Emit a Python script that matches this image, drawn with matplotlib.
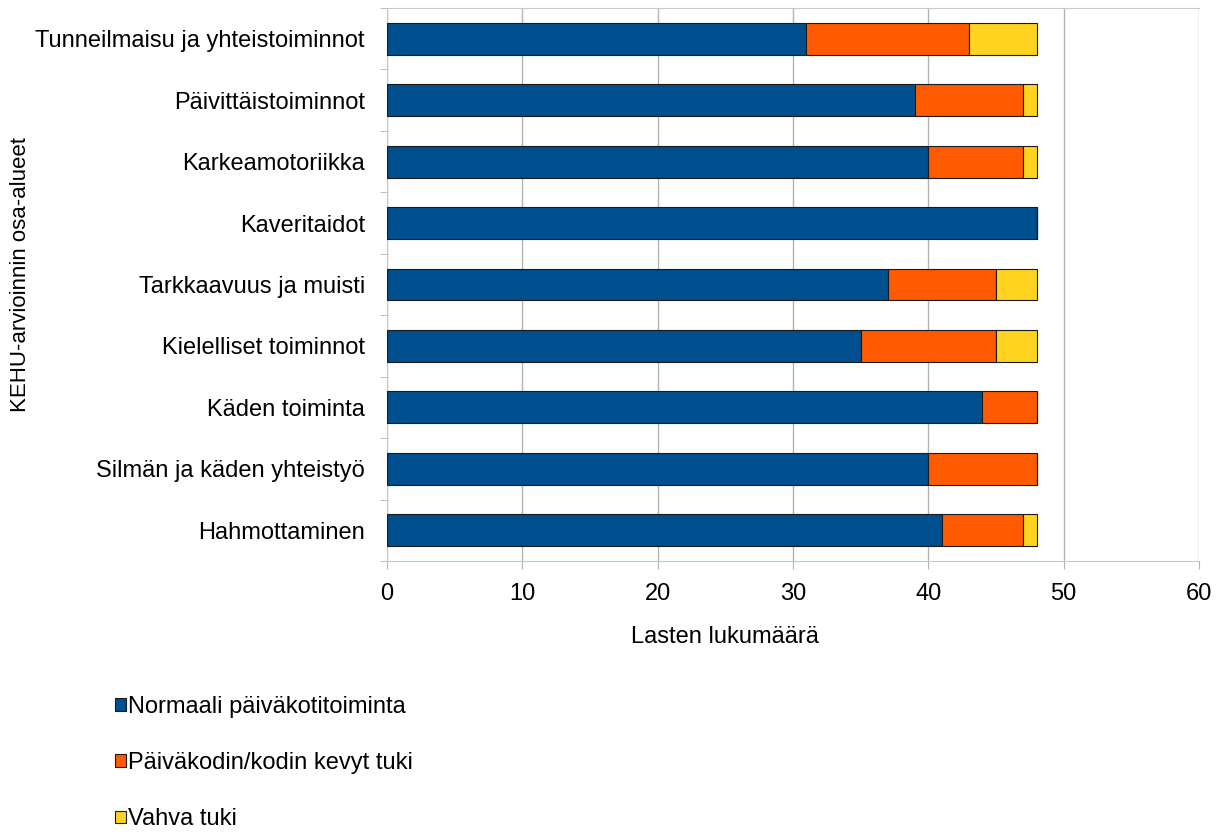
import numpy as np
import matplotlib
matplotlib.use("Agg")
import matplotlib.pyplot as plt

plt.rcParams['font.family'] = ['Liberation Sans', 'DejaVu Sans']

# KEHU assessment areas, listed bottom to top
areas = ['Hahmottaminen', 'Silmän ja käden yhteistyö', 'Käden toiminta',
         'Kielelliset toiminnot', 'Tarkkaavuus ja muisti', 'Kaveritaidot',
         'Karkeamotoriikka', 'Päivittäistoiminnot', 'Tunneilmaisu ja yhteistoiminnot']
normaali = [41, 40, 44, 35, 37, 48, 40, 39, 31]
kevyt = [6, 8, 4, 10, 8, 0, 7, 8, 12]
vahva = [1, 0, 0, 3, 3, 0, 1, 1, 5]

series = ['Normaali päiväkotitoiminta', 'Päiväkodin/kodin kevyt tuki', 'Vahva tuki']
colors = ['#004f8f', '#ff5a00', '#ffd320']
fs = 17

fig = plt.figure(figsize=(12.19, 8.32), dpi=100)
ax = fig.add_axes([0.3175, 0.3257, 0.666, 0.6647])

y = np.arange(len(areas))
left = np.zeros(len(areas))
for vals, col, name in zip([normaali, kevyt, vahva], colors, series):
    ax.barh(y, vals, left=left, height=0.52, color=col, edgecolor='#1a1a1a',
            linewidth=0.8, label=name, zorder=3)
    left += np.array(vals)

ax.set_xlim(0, 60)
ax.set_ylim(-0.5, len(areas) - 0.5)
ax.set_xticks(range(0, 61, 10))
ax.set_yticks(y)
ax.set_yticklabels(areas, fontsize=fs)
ax.set_yticks(np.arange(-0.5, len(areas), 1), minor=True)
ax.tick_params(axis='y', which='major', length=0, pad=16)
ax.tick_params(axis='y', which='minor', length=5, color='#b3b3b3')
ax.tick_params(axis='x', length=6, color='#b3b3b3', labelsize=fs, pad=10)

ax.grid(axis='x', color='#b3b3b3', linewidth=1, zorder=0)
ax.spines['right'].set_visible(False)
for side in ['left', 'bottom', 'top']:
    ax.spines[side].set_color('#c8c8c8')

# axis titles placed in figure coordinates
fig.text(725 / 1219, 1 - 637 / 832, 'Lasten lukumäärä', fontsize=fs,
         ha='center', va='center')
fig.text(21 / 1219, 1 - 275 / 832, 'KEHU-arvioinnin osa-alueet', fontsize=16,
         rotation=90, ha='center', va='center')

fig.legend(loc='upper left', bbox_to_anchor=(0.087, 0.175), frameon=False,
           fontsize=fs, handlelength=0.45, handleheight=0.45,
           handletextpad=0.1, labelspacing=1.45, borderaxespad=0)

fig.savefig('out.png', dpi=100)
